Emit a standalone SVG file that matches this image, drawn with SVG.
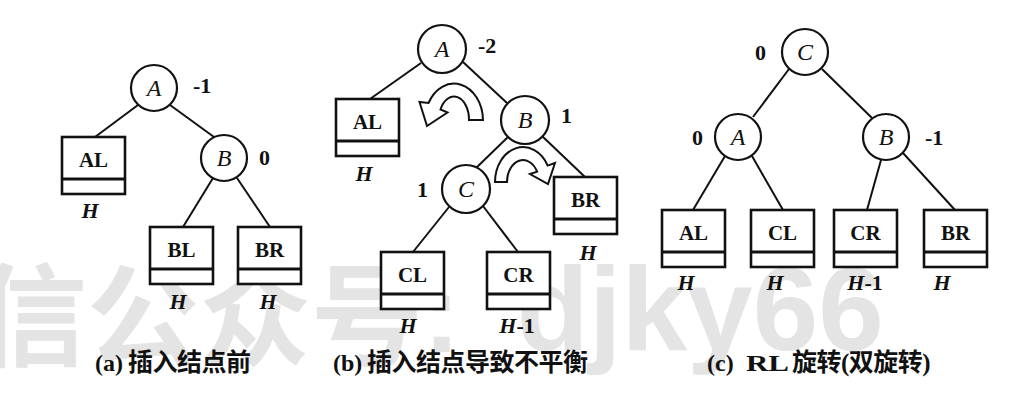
<svg xmlns="http://www.w3.org/2000/svg" width="1009" height="401" viewBox="0 0 1009 401">
  <style>
    .edge{stroke:#111;stroke-width:2;fill:none}
    .node{fill:#fff;stroke:#111;stroke-width:2.2}
    .frame{fill:#fff;stroke:#111;stroke-width:2.6}
    .split{stroke:#111;stroke-width:3}
    .nl{font-family:"Liberation Serif",serif;font-style:italic;font-size:24px;text-anchor:middle;fill:#111}
    .bl{font-family:"Liberation Serif",serif;font-weight:bold;font-size:21px;text-anchor:middle;fill:#111}
    .bf{font-family:"Liberation Serif",serif;font-weight:bold;font-size:22px;fill:#111}
    .h{font-family:"Liberation Serif",serif;font-style:italic;font-weight:bold;font-size:22px;text-anchor:middle;fill:#111}
    .cap{font-size:24px;font-weight:bold;fill:#111}
    .lat{font-family:"Liberation Serif",serif}
    .cjk{font-family:"Liberation Serif","Noto Sans CJK SC",sans-serif;font-size:25px;letter-spacing:-0.5px}
    .wm{fill:#e4e4e4;font-weight:bold}
    .turn{fill:#fff;stroke:#111;stroke-width:2;stroke-linejoin:miter}
  </style>
  <defs>
    <!-- subtree block: outlined box with a band at the bottom -->
    <g id="block">
      <rect class="frame" x="0" y="0" width="63" height="57"/>
      <line class="split" x1="0" y1="42" x2="63" y2="42"/>
    </g>
  </defs>

  <rect width="1009" height="401" fill="#fff"/>

  <!-- background watermark -->
  <g id="watermark">
    <text class="wm" x="-25" y="358" font-family="'Noto Sans CJK SC',sans-serif" font-size="112">信公众号</text>
    <text class="wm" x="423" y="352" font-family="'Liberation Sans',sans-serif" font-size="112">:</text>
    <text class="wm" x="884" y="350" text-anchor="end" font-family="'Liberation Sans',sans-serif" font-size="118">djky66</text>
  </g>

  <!-- connectors -->
  <g id="connectors">
    <!-- (a) -->
    <line class="edge" x1="138" y1="105" x2="95" y2="137"/>
    <line class="edge" x1="170" y1="105" x2="214" y2="137"/>
    <line class="edge" x1="213" y1="178" x2="183" y2="227"/>
    <line class="edge" x1="237" y1="178" x2="270" y2="227"/>
    <!-- (b) -->
    <line class="edge" x1="421" y1="63" x2="370" y2="99"/>
    <line class="edge" x1="463" y1="62" x2="507" y2="103"/>
    <line class="edge" x1="508" y1="137" x2="476" y2="168"/>
    <line class="edge" x1="542" y1="136" x2="585" y2="177"/>
    <line class="edge" x1="449" y1="207" x2="413" y2="252"/>
    <line class="edge" x1="483" y1="206" x2="518" y2="252"/>
    <!-- (c) -->
    <line class="edge" x1="789" y1="69" x2="753" y2="117"/>
    <line class="edge" x1="822" y1="69" x2="872" y2="118"/>
    <line class="edge" x1="725" y1="156" x2="693" y2="210"/>
    <line class="edge" x1="752" y1="156" x2="783" y2="210"/>
    <line class="edge" x1="881" y1="160" x2="867" y2="210"/>
    <line class="edge" x1="903" y1="153" x2="955" y2="210"/>
  </g>

  <!-- rotation arrows in (b) -->
  <g id="turn-left">
    <path class="turn" d="M469 120 L483 120 A29 37 0 0 0 428.5 103 L419.5 102 L427 126 L447.5 112.5 L440.5 109.5 A15 23 0 0 1 469 120 Z"/>
  </g>
  <g id="turn-right">
    <path class="turn" d="M507 182 L495 182 A28 35 0 0 1 547.7 165.6 L555 163 L548 184 L530 174 L537.1 171.7 A16 22 0 0 0 507 182 Z"/>
  </g>

  <!-- (a) before insertion -->
  <g id="a-A">
    <circle class="node" cx="154" cy="88" r="23"/>
    <text class="nl" x="154" y="96">A</text>
    <text class="bf" x="193" y="93">-1</text>
  </g>
  <g id="a-B">
    <circle class="node" cx="224" cy="158" r="23"/>
    <text class="nl" x="224" y="166">B</text>
    <text class="bf" x="259" y="165">0</text>
  </g>
  <g id="a-AL">
    <use href="#block" x="62" y="137"/>
    <text class="bl" x="93.5" y="167">AL</text>
    <text class="h" x="90" y="218">H</text>
  </g>
  <g id="a-BL">
    <use href="#block" x="150" y="227"/>
    <text class="bl" x="181.5" y="257">BL</text>
    <text class="h" x="178" y="309">H</text>
  </g>
  <g id="a-BR">
    <use href="#block" x="238" y="227"/>
    <text class="bl" x="269.5" y="257">BR</text>
    <text class="h" x="268" y="309">H</text>
  </g>

  <!-- (b) after insertion, unbalanced -->
  <g id="b-A">
    <circle class="node" cx="442" cy="49" r="24"/>
    <text class="nl" x="442" y="57">A</text>
    <text class="bf" x="478" y="53">-2</text>
  </g>
  <g id="b-B">
    <circle class="node" cx="525" cy="120" r="24"/>
    <text class="nl" x="525" y="128">B</text>
    <text class="bf" x="561" y="123">1</text>
  </g>
  <g id="b-C">
    <circle class="node" cx="466" cy="189" r="24"/>
    <text class="nl" x="466" y="197">C</text>
    <text class="bf" x="417" y="197">1</text>
  </g>
  <g id="b-AL">
    <use href="#block" x="336" y="99"/>
    <text class="bl" x="367.5" y="129">AL</text>
    <text class="h" x="364" y="181">H</text>
  </g>
  <g id="b-BR">
    <use href="#block" x="554" y="177"/>
    <text class="bl" x="585.5" y="207">BR</text>
    <text class="h" x="588" y="260">H</text>
  </g>
  <g id="b-CL">
    <use href="#block" x="381" y="252"/>
    <text class="bl" x="412.5" y="282">CL</text>
    <text class="h" x="408" y="333">H</text>
  </g>
  <g id="b-CR">
    <use href="#block" x="487" y="252"/>
    <text class="bl" x="518.5" y="282">CR</text>
    <text class="h" x="517" y="333">H<tspan font-style="normal">-1</tspan></text>
  </g>

  <!-- (c) after RL rotation -->
  <g id="c-C">
    <circle class="node" cx="805" cy="52" r="23"/>
    <text class="nl" x="805" y="60">C</text>
    <text class="bf" x="755" y="60">0</text>
  </g>
  <g id="c-A">
    <circle class="node" cx="738" cy="137" r="23"/>
    <text class="nl" x="738" y="145">A</text>
    <text class="bf" x="692" y="145">0</text>
  </g>
  <g id="c-B">
    <circle class="node" cx="886" cy="137" r="23"/>
    <text class="nl" x="886" y="145">B</text>
    <text class="bf" x="925" y="145">-1</text>
  </g>
  <g id="c-AL">
    <use href="#block" x="662" y="210"/>
    <text class="bl" x="693.5" y="240">AL</text>
    <text class="h" x="686" y="290">H</text>
  </g>
  <g id="c-CL">
    <use href="#block" x="751" y="210"/>
    <text class="bl" x="782.5" y="240">CL</text>
    <text class="h" x="775" y="290">H</text>
  </g>
  <g id="c-CR">
    <use href="#block" x="834" y="210"/>
    <text class="bl" x="865.5" y="240">CR</text>
    <text class="h" x="865" y="290">H<tspan font-style="normal">-1</tspan></text>
  </g>
  <g id="c-BR">
    <use href="#block" x="924" y="210"/>
    <text class="bl" x="955.5" y="240">BR</text>
    <text class="h" x="942" y="290">H</text>
  </g>

  <!-- captions -->
  <g id="captions">
    <text class="cap"><tspan class="lat" x="95" y="371">(a)</tspan><tspan class="cjk" x="128" y="371">插入结点前</tspan></text>
    <text class="cap"><tspan class="lat" x="333" y="371">(b)</tspan><tspan class="cjk" x="367" y="371">插入结点导致不平衡</tspan></text>
    <text class="cap"><tspan class="lat" x="707" y="371">(c)</tspan><tspan class="lat" x="746" y="371" textLength="43" lengthAdjust="spacingAndGlyphs">RL</tspan><tspan class="cjk" x="792" y="371">旋转(双旋转)</tspan></text>
  </g>
</svg>
